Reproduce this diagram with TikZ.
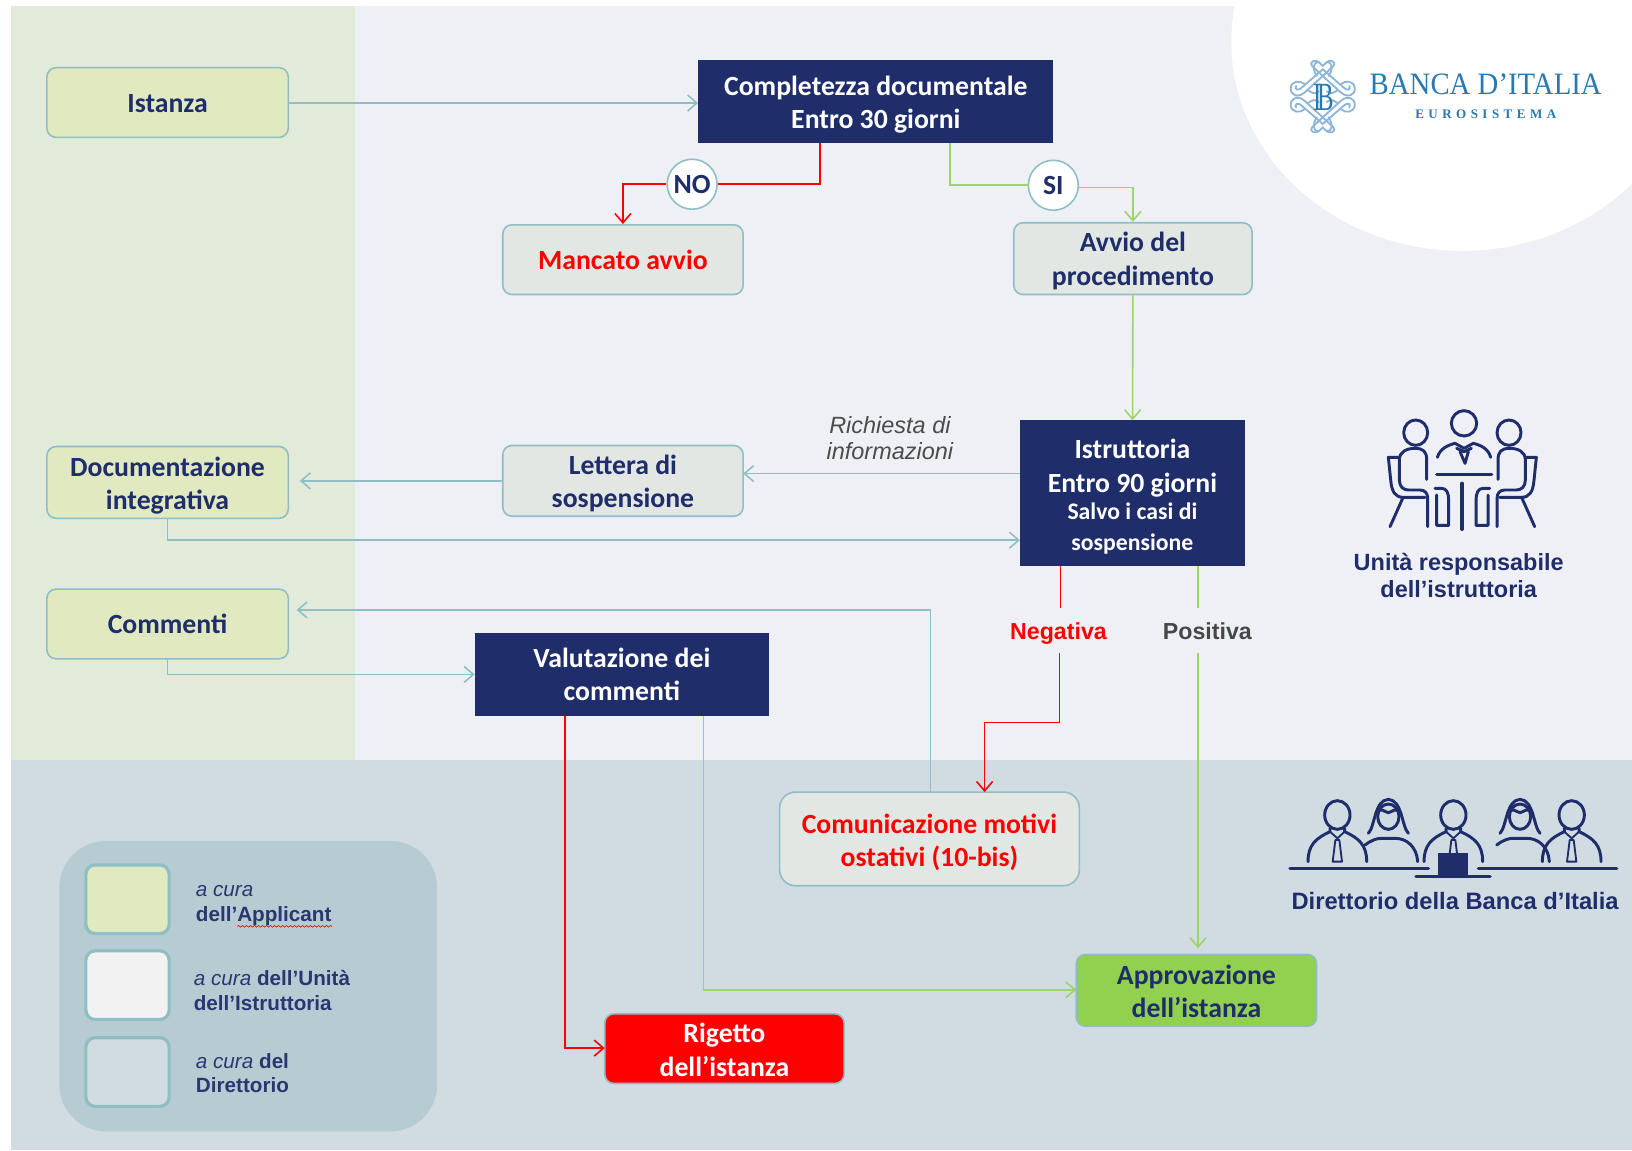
\documentclass[tikz,border=0pt]{standalone}
\usepackage{fontspec}
\setmainfont{Carlito}
\newfontfamily\arialf{Liberation Sans}
\newfontfamily\logoserif{Liberation Serif}
\newfontfamily\logospaced[LetterSpace=34]{Liberation Serif}
\usetikzlibrary{arrows.meta,decorations.pathmorphing}
\definecolor{navy}{HTML}{1F2D6B}
\definecolor{inknavy}{HTML}{2A3672}
\definecolor{teal}{HTML}{8FBFC5}
\definecolor{grn}{HTML}{9BD567}
\definecolor{lav}{HTML}{EFF0F6}
\definecolor{leftgreen}{HTML}{E2EBD9}
\definecolor{band}{HTML}{D0DCE2}
\definecolor{applicant}{HTML}{E0E9C0}
\definecolor{unitbox}{HTML}{E2E7E3}
\definecolor{legendbg}{HTML}{B7CCD2}
\definecolor{okgreen}{HTML}{92D050}
\definecolor{logoblue}{HTML}{2A78B0}
\definecolor{logopale}{HTML}{8DB6D9}
\def\ux{0.7806pt}
\newcommand\smallline{\fontsize{17.8}{22}\selectfont}
\newcommand\topfill[1]{\rule{0pt}{#1pt}}
\tikzset{
  bodytext/.style={font=\fontsize{20.8}{25}\selectfont\bfseries,text=navy,align=center,inner sep=0pt},
  rbox/.style={bodytext,rectangle,rounded corners=7pt,draw=teal,line width=1.2pt},
  appbox/.style={rbox,fill=applicant},
  unibox/.style={rbox,fill=unitbox},
  navybox/.style={bodytext,rectangle,fill=navy,text=white},
  circ/.style={bodytext,circle,draw=teal,line width=1.2pt,fill=white,minimum size=48*\ux},
  sized/.style n args={2}{minimum width=#1*\ux,minimum height=#2*\ux},
  flow/.style={line width=1.2pt,-{Straight Barb[length=7pt,width=12pt,line width=1.2pt]}},
  plainflow/.style={line width=1.2pt},
  tealflow/.style={flow,draw=teal},
  redflow/.style={flow,draw=red},
  grnflow/.style={flow,draw=grn},
  legsw/.style={rectangle,rounded corners=7pt,draw=teal,line width=2.4pt,sized={80}{66}},
  legtext/.style={font=\arialf\fontsize{15.5}{18.7}\selectfont,text=inknavy,align=left,anchor=west,inner sep=0pt},
  caption/.style={font=\arialf\fontsize{17.6}{20.3}\selectfont\bfseries,text=navy,align=center,inner sep=0pt},
  gaplabel/.style={font=\arialf\fontsize{17.4}{20}\selectfont\bfseries,fill=lav,inner xsep=2pt,inner ysep=0pt,minimum height=43*\ux,text height=16.9pt,text depth=3.6pt},
  icon/.style={draw=navy,line width=2.2pt,line cap=round,line join=round},
  emblem/.style={draw=logopale,line width=1.4pt,line cap=round},
}
\begin{document}
\begin{tikzpicture}[x=0.7806pt,y=-0.7806pt]
\useasboundingbox (0,0) rectangle (1568,1105);
% backgrounds
\fill[white] (0,0) rectangle (1568,1105);
\fill[lav] (11,6) rectangle (1568,730);
\begin{scope}
  \clip (11,6) rectangle (1568,730);
  \fill[white] (1405,40) ellipse [x radius=222, y radius=201];
\end{scope}
\fill[leftgreen] (11,6) rectangle (341,730);
\fill[band] (11,730) rectangle (1568,1105);
% legend
\node[rectangle,rounded corners=35pt,fill=legendbg,sized={363}{279}] (legend) at (238.5,947.5) {};
\node[legsw,fill=applicant] (leg1) at (122.5,864) {};
\node[legsw,fill=white!95!black] (leg2) at (122.5,946.5) {};
\node[legsw,fill=band] (leg3) at (122.5,1030) {};
\node[legtext] (legt1) at (188,870) {\textit{a cura}\\\bfseries dell’Applicant};
\draw[red,line width=.5pt,decorate,decoration={snake,amplitude=.6pt,segment length=3pt}] (228,890) -- (319,890);
\node[legtext] (legt2) at (186,952) {\textit{a cura} \bfseries dell’Unità\\\bfseries dell’Istruttoria};
\node[legtext] (legt3) at (188,1031) {\textit{a cura} \bfseries del\\\bfseries Direttorio};
% boxes
\node[appbox,sized={232}{67}] (ist) at (161,98.5) {\topfill{15}Istanza};
\node[navybox,sized={341}{79}] (compl) at (841.5,97.5) {\topfill{19.5}Completezza documentale\\Entro 30 giorni};
\node[unibox,sized={231}{67},text=red] (manc) at (598.5,249.5) {Mancato avvio};
\node[unibox,sized={229}{69}] (avvio) at (1088.5,248.5) {\topfill{18}Avvio del\\procedimento};
\node[circ] (no) at (665,177) {NO};
\node[circ] (si) at (1012,178) {SI};
\node[navybox,sized={216}{140}] (istr) at (1088,474) {\topfill{19.5}Istruttoria\\Entro 90 giorni\\[-4.2pt]\smallline Salvo i casi di\\[-2.3pt]\smallline sospensione};
\node[unibox,sized={231}{68}] (lett) at (598.5,462) {\topfill{18}Lettera di\\sospensione};
\node[appbox,sized={232}{69}] (doc) at (161,463.5) {\topfill{19.5}Documentazione\\integrativa};
\node[appbox,sized={232}{67}] (comm) at (161,599.5) {\topfill{15}Commenti};
\node[navybox,sized={283}{80}] (val) at (597.5,648) {Valutazione dei\\commenti};
\node[unibox,rounded corners=12pt,sized={288}{90},text=red] (cmo) at (893,806) {\topfill{19.5}Comunicazione motivi\\ostativi (10-bis)};
\node[rbox,fill=okgreen,sized={231}{69}] (appr) at (1149.5,951.5) {\topfill{16.5}Approvazione\\dell’istanza};
\node[rbox,fill=red,text=white,sized={230}{67}] (rig) at (696,1007.5) {\topfill{16.5}Rigetto\\dell’istanza};
% labels on connectors
\node[gaplabel,text=red] (neg) at (1017,606) {Negativa};
\node[gaplabel,text=black!72] (pos) at (1160,606) {Positiva};
\node[font=\arialf\itshape\fontsize{17.6}{19.5}\selectfont,text=black!70,align=center,inner sep=0pt] (rich) at (855,420.5) {Richiesta di\\informazioni};
% connector anchors
\coordinate (noout) at (788,137);
\coordinate (siout) at (913,137);
\coordinate (sientry) at (1088,180);
\coordinate (lettin) at (714,455);
\coordinate (istrw) at (980,455);
\coordinate (doctip) at (288,462);
\coordinate (docout) at (161,498);
\coordinate (docin) at (980,519);
\coordinate (commtip) at (285,586);
\coordinate (cmoout) at (894,761);
\coordinate (commout) at (161,633);
\coordinate (valin) at (456,648);
\coordinate (negout) at (1019,544);
\coordinate (negb) at (1018,694);
\coordinate (cmoin) at (946,761);
\coordinate (posout) at (1151,544);
\coordinate (apprtip) at (1151,911);
\coordinate (valr) at (543,688);
\coordinate (rigin) at (581,1007);
\coordinate (valg) at (676,688);
\coordinate (apprin) at (1034,951);
% connectors
\draw[tealflow] (ist.east |- 0,99) -- (compl.west |- 0,99);
\draw[plainflow,draw=red] (noout) |- (no);
\draw[redflow] (no) -| (manc);
\draw[plainflow,draw=grn] (siout) |- (si);
\draw[grnflow] (si.east |- sientry) -| (avvio);
\draw[grnflow] (avvio) -- (istr);
\draw[tealflow] (istrw) -- (lettin);
\draw[tealflow] (lett.west |- doctip) -- (doctip);
\draw[tealflow] (docout) |- (docin);
\draw[tealflow] (cmoout) |- (commtip);
\draw[tealflow] (commout) |- (valin);
\draw[plainflow,draw=red] (negout) -- (neg.north -| negout);
\draw[redflow] (neg.south -| negb) |- (cmoin |- negb) -- (cmoin);
\draw[plainflow,draw=grn] (posout) -- (pos.north -| posout);
\draw[grnflow] (pos.south -| posout) -- (apprtip);
\draw[redflow] (valr) |- (rigin);
\draw[grnflow] (valg) |- (apprin);
% captions
\node[caption] (capu) at (1401.5,552.5) {Unità responsabile\\dell’istruttoria};
\node[caption,font=\arialf\fontsize{17.8}{20}\selectfont\bfseries] (capd) at (1398,866) {Direttorio della Banca d’Italia};
% logo
\begin{scope}[shift={(1153,0)}]
\begin{scope}[x=.25pt,y=-.25pt]
\node[font=\logoserif\fontsize{21.6}{22}\selectfont,text=logoblue,yscale=1.08,inner sep=0pt] (logoa) at (857,253) {BANCA D’ITALIA};
\node[font=\logospaced\fontsize{9.8}{11}\selectfont\bfseries,text=logoblue,inner sep=0pt] (logob) at (857,343) {EUROSISTEMA};
\begin{scope}[shift={(368,290)}]
\foreach \sx/\sy in {1/1,-1/1,1/-1,-1/-1}{
\begin{scope}[xscale=\sx,yscale=\sy]
  \draw[emblem] (0,62) -- (-55,12) .. controls (-75,-5) and (-98,5) .. (-96,26) .. controls (-94,48) and (-68,50) .. (-55,38);
  \draw[emblem] (0,82) -- (-62,28) .. controls (-78,14) and (-84,24) .. (-80,32);
  \draw[emblem] (0,62) -- (32,92) .. controls (42,108) and (18,112) .. (10,102) -- (0,92);
  \draw[emblem] (-18,62) .. controls (-30,80) and (-32,102) .. (-12,104);
  \draw[emblem] (-45,20) .. controls (-30,8) and (-22,8) .. (-12,16);
\end{scope}}
\node[font=\logoserif\fontsize{30}{30}\selectfont,text=logoblue,inner sep=0pt,xscale=.62] (logoi) at (-14,3) {I};
\node[font=\logoserif\fontsize{30}{30}\selectfont,text=logoblue,inner sep=0pt,xscale=.62] (logoj) at (8,3) {B};
\end{scope}
\end{scope}
\end{scope}
% icon: meeting (zoom coordinates)
\begin{scope}[shift={(1210.6,365.1)}]
\begin{scope}[x=.25pt,y=-.25pt]
\draw[icon] (467,158) ellipse [x radius=36, y radius=38];
\draw[icon] (612,130) ellipse [x radius=38, y radius=38];
\draw[icon] (747,158) ellipse [x radius=36, y radius=38];
\foreach \mir in {0,1}{
\begin{scope}[shift={(\mir*1214,0)},xscale={1-2*\mir}]
  \draw[icon] (500,298) -- (500,240) .. controls (500,215) and (490,205) .. (465,205) .. controls (440,205) and (418,215) .. (418,240) -- (418,300) .. controls (418,320) and (430,330) .. (445,330) -- (480,330) .. controls (495,330) and (503,340) .. (503,355) -- (503,440);
  \draw[icon] (418,232) -- (385,232) -- (392,300) .. controls (395,335) and (405,352) .. (430,352) -- (495,352);
  \draw[icon] (428,355) -- (390,440);
  \draw[icon] (525,325) -- (545,325) .. controls (560,325) and (566,340) .. (566,360) -- (566,436) -- (530,436) -- (530,345);
\end{scope}}
\draw[icon] (532,232) .. controls (540,205) and (565,195) .. (585,190) -- (612,205) -- (640,190) .. controls (660,195) and (685,205) .. (692,232);
\draw[icon] (590,205) -- (612,215) -- (634,205) (600,215) -- (615,250) -- (625,215);
\draw[icon,line width=2.5pt] (530,283) -- (695,283);
\draw[icon,line width=2.5pt] (606,310) -- (606,448);
\end{scope}
\end{scope}
% icon: board (zoom coordinates)
\begin{scope}[shift={(1210.6,739.8)}]
\begin{scope}[x=.25pt,y=-.25pt]
\foreach \cx in {232,580,935}{
\begin{scope}[shift={(\cx,0)}]
  \draw[icon] (0,135) ellipse [x radius=38, y radius=43];
  \draw[icon] (-88,275) .. controls (-88,225) and (-65,205) .. (-22,185) -- (-22,175) (22,175) -- (22,185) .. controls (65,205) and (88,225) .. (88,275);
  \draw[icon,line width=1.4pt] (-22,185) -- (0,205) -- (22,185) (-6,210) -- (-14,275) -- (14,275) -- (6,210) -- cycle;
\end{scope}}
\foreach \cx in {385,780}{
\begin{scope}[shift={(\cx,0)}]
  \draw[icon] (0,140) ellipse [x radius=32, y radius=38];
  \draw[icon] (-38,130) .. controls (-20,110) and (-15,125) .. (0,128) .. controls (15,125) and (20,110) .. (38,130);
  \draw[icon] (-60,190) .. controls (-40,170) and (-42,90) .. (0,88) .. controls (42,90) and (40,170) .. (60,190);
  \draw[icon] (-70,225) .. controls (-50,210) and (-35,205) .. (-20,205) -- (20,205) .. controls (55,205) and (85,230) .. (88,275);
\end{scope}}
\draw[icon,line width=2.6pt] (90,295) -- (505,295) (655,295) -- (1070,295) (468,320) -- (690,320);
\fill[navy] (533,248) rectangle (625,318);
\end{scope}
\end{scope}
\end{tikzpicture}
\end{document}
